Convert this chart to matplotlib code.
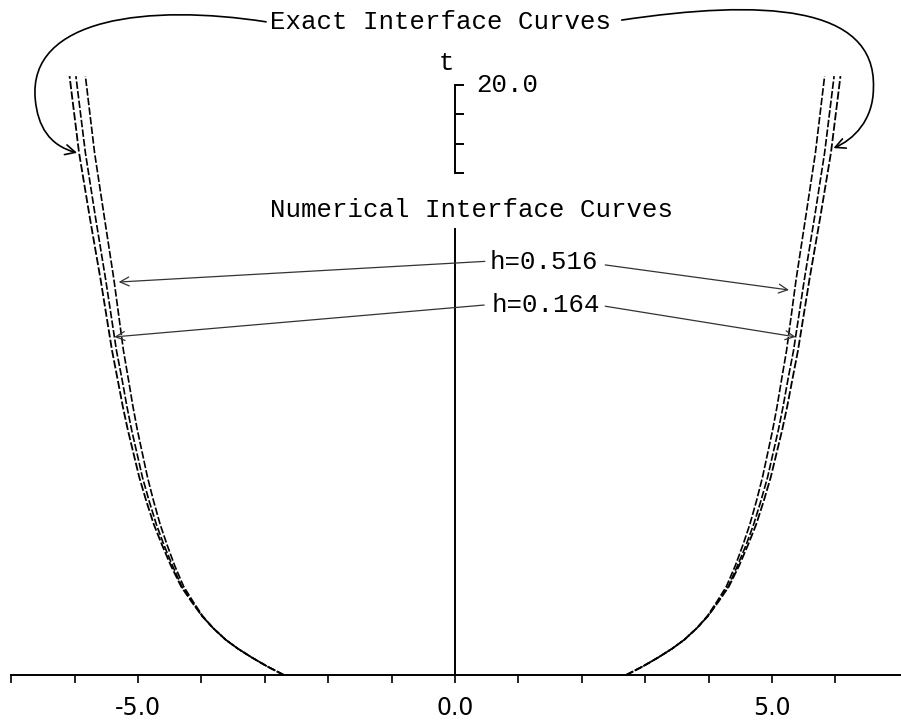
import numpy as np
import matplotlib
matplotlib.use("Agg")
import matplotlib.pyplot as plt
from matplotlib.patches import FancyArrowPatch
from matplotlib.path import Path
from matplotlib.ticker import FixedLocator, FuncFormatter

# ---------------- data ----------------
t_vals  = [0.0, 0.3, 0.6, 0.9, 1.2, 1.6, 2.0, 2.5, 3.0, 3.7, 4.4, 5.1,
           5.9, 6.7, 7.5, 8.3, 9.1, 10.0, 11.0, 12.2, 13.4, 15.5, 17.7, 20.3]
x_exact = [2.70, 2.97, 3.21, 3.43, 3.62, 3.82, 3.99, 4.16, 4.32, 4.48, 4.62, 4.75,
           4.87, 4.98, 5.07, 5.16, 5.24, 5.32, 5.41, 5.50, 5.59, 5.76, 5.93, 6.08]
x_h164  = [2.70, 2.97, 3.21, 3.43, 3.62, 3.82, 3.99, 4.155, 4.31, 4.455, 4.59, 4.71,
           4.825, 4.93, 5.015, 5.10, 5.175, 5.25, 5.34, 5.425, 5.51, 5.67, 5.83, 5.98]
x_h516  = [2.70, 2.97, 3.21, 3.43, 3.62, 3.82, 3.98, 4.135, 4.28, 4.42, 4.54, 4.65,
           4.755, 4.85, 4.93, 5.01, 5.08, 5.15, 5.23, 5.305, 5.38, 5.53, 5.685, 5.83]

x_ticks = [-7, -6, -5, -4, -3, -2, -1, 0, 1, 2, 3, 4, 5, 6]
x_tick_labels = {-5: "-5.0", 0: "0.0", 5: "5.0"}
t_ticks_low = list(range(0, 16))
t_ticks_top = [17, 18, 19, 20]
t_top_label = {20: "20.0"}

title_exact = "Exact Interface Curves"
title_num = "Numerical Interface Curves"
label_h516 = "h=0.516"
label_h164 = "h=0.164"
axis_name = "t"

# ---------------- figure ----------------
MONO = ["Liberation Mono", "DejaVu Sans Mono"]
FS = 18.5
XLIM = (-7.177, 7.035)
YLIM = (-1.695, 22.88)

fig = plt.figure(figsize=(9.01, 7.25), dpi=100)
ax = fig.add_axes([0, 0, 1, 1])
ax.set_xlim(*XLIM)
ax.set_ylim(*YLIM)
ax.patch.set_alpha(0)

# second axes for the upper piece of the broken t axis
ax2 = fig.add_axes([0, 0, 1, 1], sharex=ax, sharey=ax)
ax2.patch.set_alpha(0)

for a in (ax, ax2):
    for s in ("left", "top", "bottom", "right"):
        a.spines[s].set_visible(False)
    a.tick_params(left=False, labelleft=False, bottom=False, labelbottom=False,
                  top=False, labeltop=False, right=False, labelright=False)

# x axis (bottom spine through t=0)
ax.spines["bottom"].set_visible(True)
ax.spines["bottom"].set_position(("data", 0))
ax.spines["bottom"].set_bounds(-7, XLIM[1])
ax.spines["bottom"].set_linewidth(1.4)
ax.xaxis.set_major_locator(FixedLocator(x_ticks))
ax.xaxis.set_major_formatter(FuncFormatter(lambda v, p: x_tick_labels.get(int(round(v)), "")))
ax.tick_params(axis="x", bottom=True, labelbottom=True, direction="out",
               length=6, width=1.2, pad=9, labelsize=17)
for lab in ax.get_xticklabels():
    lab.set_fontfamily("DejaVu Sans")

# t axis lower piece (right spine at x=0, ticks to the right)
ax.spines["right"].set_visible(True)
ax.spines["right"].set_position(("data", 0))
ax.spines["right"].set_bounds(0, 15.12)
ax.spines["right"].set_linewidth(1.4)
ax.yaxis.set_major_locator(FixedLocator(t_ticks_low))
ax.tick_params(axis="y", right=True, labelright=False, direction="out",
               length=6.5, width=1.2)

# t axis upper piece
ax2.spines["right"].set_visible(True)
ax2.spines["right"].set_position(("data", 0))
ax2.spines["right"].set_bounds(17, 20)
ax2.spines["right"].set_linewidth(1.4)
ax2.yaxis.set_major_locator(FixedLocator(t_ticks_top))
ax2.yaxis.set_major_formatter(FuncFormatter(lambda v, p: t_top_label.get(int(round(v)), "")))
ax2.tick_params(axis="y", right=True, labelright=True, direction="out",
                length=6.5, width=1.2, pad=9, labelsize=FS)
for lab in ax2.get_yticklabels():
    lab.set_fontfamily(MONO)
    lab.set_va("center")

# ---------------- interface curves ----------------
dash = (0, (4.5, 1.3))
for xs, lw in ((x_exact, 1.3), (x_h164, 1.2), (x_h516, 1.2)):
    xs = np.asarray(xs)
    ax.plot(xs, t_vals, color="black", lw=lw, linestyle=dash)
    ax.plot(-xs, t_vals, color="black", lw=lw, linestyle=dash)

# ---------------- text ----------------
ax.text(-2.92, 22.14, title_exact, family=MONO, fontsize=FS, ha="left", va="center")
ax.text(-2.92, 15.76, title_num, family=MONO, fontsize=FS, ha="left", va="center")
ax.text(-0.13, 20.75, axis_name, family=MONO, fontsize=FS, ha="center", va="center")
ax.text(0.55, 14.0, label_h516, family=MONO, fontsize=FS, ha="left", va="center")
ax.text(0.58, 12.54, label_h164, family=MONO, fontsize=FS, ha="left", va="center")

# ---------------- leader arrows for the numerical curves ----------------
def curve_x(xs, t):
    return float(np.interp(t, t_vals, xs))

arrow_kw = dict(arrowstyle="->", color="#333333", lw=0.9, shrinkA=0, shrinkB=0,
                mutation_scale=16)

t_a = 13.32
ax.annotate("", xy=(-curve_x(x_h516, t_a) + 0.07, t_a), xytext=(0.47, 14.02),
            arrowprops=arrow_kw)
t_b = 13.05
ax.annotate("", xy=(curve_x(x_h516, t_b) - 0.09, t_b), xytext=(2.37, 13.9),
            arrowprops=arrow_kw)
t_c = 11.46
ax.annotate("", xy=(-curve_x(x_h164, t_c), t_c), xytext=(0.46, 12.54),
            arrowprops=arrow_kw)
t_d = 11.46
ax.annotate("", xy=(curve_x(x_h164, t_d), t_d), xytext=(2.37, 12.5),
            arrowprops=arrow_kw)

# ---------------- curved arrows for the exact curves ----------------
t_l = 17.7
tipL = (-curve_x(x_exact, t_l) - 0.03, t_l)
vertsL = [(-2.98, 22.14), (-4.81, 22.75), (-6.75, 22.3), (-6.62, 19.5),
          (-6.58, 18.6), (-6.4, 17.95), tipL]
t_r = 17.86
tipR = (curve_x(x_exact, t_r) + 0.03, t_r)
vertsR = [(2.63, 22.2), (4.81, 22.9), (6.65, 22.75), (6.6, 19.9),
          (6.6, 18.8), (6.28, 18.14), tipR]
codes = [Path.MOVETO, Path.CURVE4, Path.CURVE4, Path.CURVE4,
         Path.CURVE4, Path.CURVE4, Path.CURVE4]
for verts in (vertsL, vertsR):
    arc = FancyArrowPatch(path=Path(verts, codes), arrowstyle="->",
                          mutation_scale=18, lw=1.2, color="black")
    ax.add_patch(arc)

fig.savefig("out.png", dpi=100)
